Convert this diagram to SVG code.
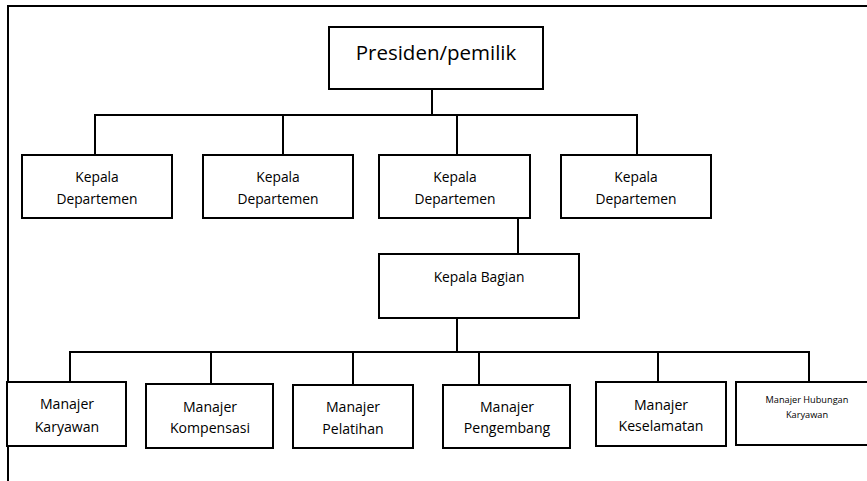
<svg xmlns="http://www.w3.org/2000/svg" width="867" height="481" viewBox="0 0 867 481">
<style>
.box{fill:#fff;stroke:#000;stroke-width:2}
.ln{fill:none;stroke:#000;stroke-width:2}
text{font-family:"Open Sans","Liberation Sans",sans-serif;fill:#000;text-anchor:middle}
.t1{font-size:20.5px}
.t2{font-size:13.8px}
.t3{font-size:14.1px}
.t4{font-size:9.2px}
</style>
<rect width="867" height="481" fill="#fff"/>
<path class="ln" d="M8 481 V6 H867" stroke-width="2.5"/>
<g id="connectors">
<path class="ln" d="M432 89 V115"/>
<path class="ln" d="M95 155 V115 H637 V155"/>
<path class="ln" d="M283 115 V155"/>
<path class="ln" d="M457 115 V155"/>
<path class="ln" d="M518 218 V254"/>
<path class="ln" d="M457 318 V352"/>
<path class="ln" d="M70 382 V352 H809 V382"/>
<path class="ln" d="M211 352 V384"/>
<path class="ln" d="M353 352 V385"/>
<path class="ln" d="M479 352 V385"/>
<path class="ln" d="M658 352 V382"/>
</g>
<g id="presiden"><rect class="box" x="329" y="27" width="214" height="62"/><text class="t1" x="436" y="60">Presiden/pemilik</text></g>
<g id="kd1"><rect class="box" x="22" y="155" width="150" height="63"/><text class="t2" x="97" y="182">Kepala</text><text class="t2" x="97" y="204">Departemen</text></g>
<g id="kd2"><rect class="box" x="203" y="155" width="150" height="63"/><text class="t2" x="278" y="182">Kepala</text><text class="t2" x="278" y="204">Departemen</text></g>
<g id="kd3"><rect class="box" x="379" y="155" width="151" height="63"/><text class="t2" x="455" y="182">Kepala</text><text class="t2" x="455" y="204">Departemen</text></g>
<g id="kd4"><rect class="box" x="561" y="155" width="150" height="63"/><text class="t2" x="636" y="182">Kepala</text><text class="t2" x="636" y="204">Departemen</text></g>
<g id="kb"><rect class="box" x="379" y="254" width="200" height="64"/><text class="t2" x="479" y="282">Kepala Bagian</text></g>
<g id="m1"><rect class="box" x="7" y="382" width="119" height="64"/><text class="t3" x="67" y="409">Manajer</text><text class="t3" x="67" y="432">Karyawan</text></g>
<g id="m2"><rect class="box" x="146" y="384" width="127" height="64"/><text class="t3" x="210" y="412">Manajer</text><text class="t3" x="210" y="433">Kompensasi</text></g>
<g id="m3"><rect class="box" x="293" y="385" width="120" height="63"/><text class="t3" x="353" y="412">Manajer</text><text class="t3" x="353" y="434">Pelatihan</text></g>
<g id="m4"><rect class="box" x="443" y="385" width="127" height="63"/><text class="t3" x="507" y="412">Manajer</text><text class="t3" x="507" y="433">Pengembang</text></g>
<g id="m5"><rect class="box" x="596" y="382" width="130" height="64"/><text class="t3" x="661" y="410">Manajer</text><text class="t3" x="661" y="431">Keselamatan</text></g>
<g id="m6"><rect class="box" x="736" y="382" width="140" height="63"/><text class="t4" x="807" y="403">Manajer Hubungan</text><text class="t4" x="807" y="418">Karyawan</text></g>
</svg>
